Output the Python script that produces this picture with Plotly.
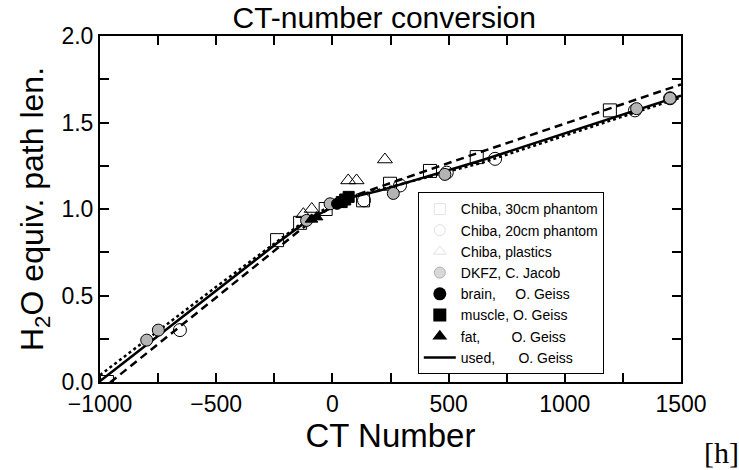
import plotly.graph_objects as go

# ---- data ----
# Chiba, 30cm phantom (open squares)
chiba30_x = [-970, -238, -139, -29, 132, 248, 420, 621, 1194]
chiba30_y = [0.0, 0.82, 0.92, 1.00, 1.05, 1.146, 1.22, 1.30, 1.57]

# Chiba, 20cm phantom (open circles)
chiba20_x = [-656, 136, 291, 492, 700, 1302, 1453]
chiba20_y = [0.30, 1.05, 1.136, 1.21, 1.29, 1.57, 1.64]

# Chiba, plastics (open triangles)
plastics_x = [-125, -89, 68, 104, 226]
plastics_y = [0.97, 1.00, 1.165, 1.165, 1.286]

# DKFZ, C. Jacob (hatched circles)
dkfz_x = [-799, -749, -111, -10, 262, 484, 1309, 1453]
dkfz_y = [0.242, 0.30, 0.934, 1.03, 1.09, 1.20, 1.58, 1.64]

# O. Geiss tissue measurements
brain_x = [20, 35, 45]
brain_y = [1.03, 1.04, 1.045]
muscle_x = [40, 55, 70]
muscle_y = [1.04, 1.055, 1.07]
fat_x = [-90, -68]
fat_y = [0.94, 0.953]

# calibration curves
used_x = [-1000, -500, -240, -100, 0, 60, 200, 650, 1500]
used_y = [0.005, 0.525, 0.80, 0.94, 1.01, 1.06, 1.105, 1.285, 1.655]

dotted_x = [-1000, -500, -100, 50, 200, 650, 1500]
dotted_y = [0.04, 0.55, 0.95, 1.06, 1.11, 1.27, 1.645]

dashed_x = [-1000, -500, -100, 0, 100, 250, 650, 1500]
dashed_y = [-0.05, 0.49, 0.92, 1.02, 1.08, 1.15, 1.335, 1.72]

# tick positions (every tick drawn, labels on every second one)
x_ticks = [-1000, -750, -500, -250, 0, 250, 500, 750, 1000, 1250, 1500]
x_labels = ["−1000", "", "−500", "", "0", "", "500", "", "1000", "", "1500"]
y_ticks = [0, 0.25, 0.5, 0.75, 1.0, 1.25, 1.5, 1.75, 2.0]
y_labels = ["0.0", "", "0.5", "", "1.0", "", "1.5", "", "2.0"]

FONT = "Liberation Sans, Arial, sans-serif"

fig = go.Figure()

# curves
fig.add_trace(go.Scatter(x=dotted_x, y=dotted_y, mode="lines", showlegend=False,
                         line=dict(color="black", width=2.5, dash="dot")))
fig.add_trace(go.Scatter(x=dashed_x, y=dashed_y, mode="lines", showlegend=False,
                         line=dict(color="black", width=2.5, dash="8px,5px")))
fig.add_trace(go.Scatter(x=used_x, y=used_y, mode="lines", showlegend=False,
                         line=dict(color="black", width=2.5)))

def pts(x, y, symbol, size, fill, edge="black", lw=1):
    fig.add_trace(go.Scatter(
        x=x, y=y, mode="markers", showlegend=False,
        marker=dict(symbol=symbol, size=size, color=fill,
                    line=dict(color=edge, width=lw))))

pts(chiba30_x, chiba30_y, "square-open", 13, "black")
pts(chiba20_x, chiba20_y, "circle-open", 13, "black")
pts(plastics_x, plastics_y, "triangle-up-open", 13, "black")
pts(dkfz_x, dkfz_y, "circle", 12, "#b4b4b4")
pts(brain_x, brain_y, "circle", 11, "black")
pts(muscle_x, muscle_y, "square", 11, "black")
pts(fat_x, fat_y, "triangle-up", 11, "black")

# legend entries
def leg(name, **kw):
    fig.add_trace(go.Scatter(x=[None], y=[None], name=name, **kw))

leg("Chiba, 30cm phantom", mode="markers",
    marker=dict(symbol="square-open", size=11, color="#e4e4e4"))
leg("Chiba, 20cm phantom", mode="markers",
    marker=dict(symbol="circle-open", size=11, color="#e0e0e0"))
leg("Chiba, plastics", mode="markers",
    marker=dict(symbol="triangle-up-open", size=11, color="#e0e0e0"))
leg("DKFZ, C. Jacob", mode="markers",
    marker=dict(symbol="circle", size=11, color="#d8d8d8",
                line=dict(color="#b0b0b0", width=1)))
leg("brain,     O. Geiss", mode="markers",
    marker=dict(symbol="circle", size=13, color="black"))
leg("muscle, O. Geiss", mode="markers",
    marker=dict(symbol="square", size=13, color="black"))
leg("fat,        O. Geiss", mode="markers",
    marker=dict(symbol="triangle-up", size=13, color="black"))
leg("used,      O. Geiss", mode="lines", line=dict(color="black", width=2.5))

axis_common = dict(
    showline=True, linecolor="black", linewidth=2, mirror="ticks",
    ticks="inside", ticklen=9, tickwidth=2, tickcolor="black",
    showgrid=False, zeroline=False,
    tickfont=dict(family=FONT, size=23, color="black"),
)

fig.update_xaxes(range=[-1000, 1500], tickmode="array", tickvals=x_ticks, ticktext=x_labels,
                 title=dict(text="CT Number", font=dict(family=FONT, size=33, color="black"),
                            standoff=4),
                 **axis_common)
fig.update_yaxes(range=[0, 2.0], tickmode="array", tickvals=y_ticks, ticktext=y_labels,
                 title=dict(text="H<sub>2</sub>O equiv. path len.",
                            font=dict(family=FONT, size=32, color="black"), standoff=8),
                 **axis_common)

fig.update_layout(
    width=739, height=470,
    margin=dict(l=100, r=58, t=36, b=88),
    paper_bgcolor="white", plot_bgcolor="white",
    title=dict(text="CT-number conversion", x=0.52, xanchor="center",
               y=0.985, yanchor="top",
               font=dict(family=FONT, size=30, color="black")),
    legend=dict(x=0.547, y=0.548, xanchor="left", yanchor="top",
                bgcolor="white", bordercolor="black", borderwidth=1,
                font=dict(family=FONT, size=14, color="black"),
                tracegroupgap=0, itemwidth=32,
                entrywidth=200, entrywidthmode="pixels"),
    annotations=[dict(text="[h]", xref="paper", yref="paper", x=1.069, y=-0.205,
                      xanchor="center", yanchor="middle", showarrow=False,
                      font=dict(family="Liberation Serif, DejaVu Serif, serif",
                                size=30, color="black"))],
)

fig.write_html("out.html")
